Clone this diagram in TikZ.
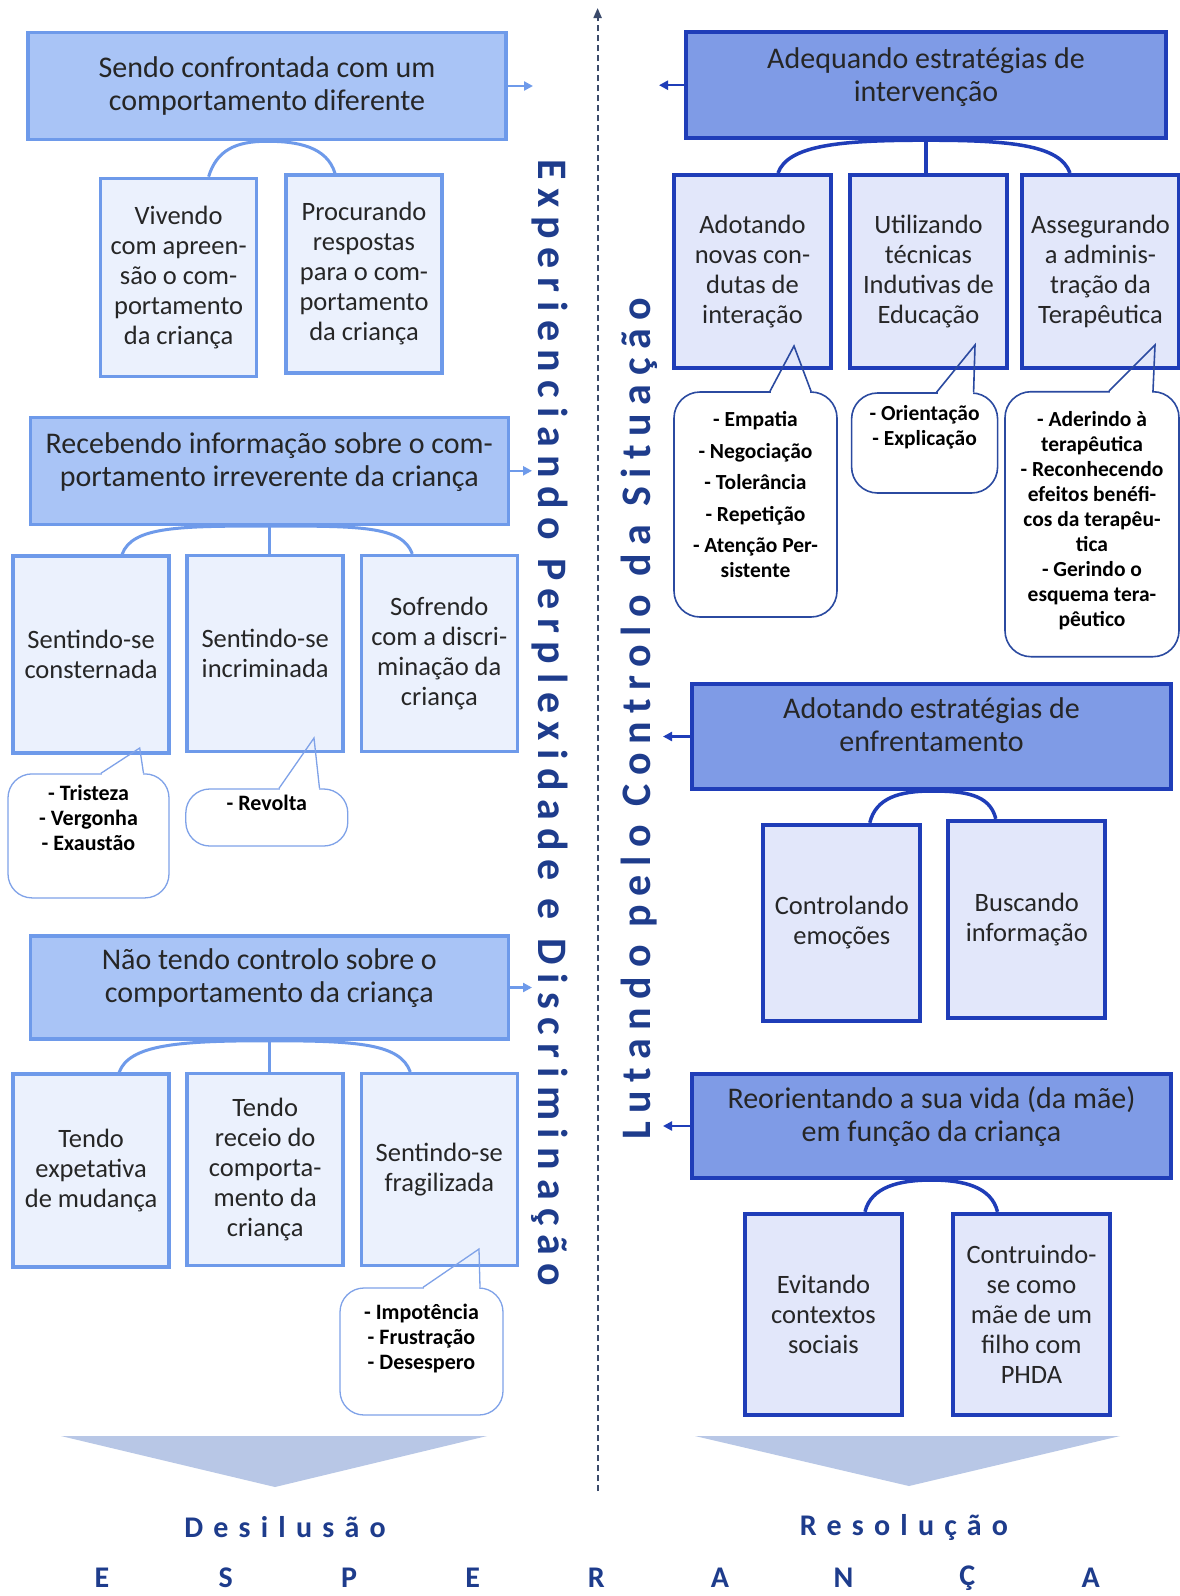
\documentclass[tikz,border=0pt]{standalone}
\usepackage{fontspec}
\setmainfont{Carlito}
\newfontfamily\sidefont[LetterSpace=20.5]{Carlito}
\newfontfamily\footfont[LetterSpace=34]{Carlito}
\usepackage{tikz}
\usetikzlibrary{calc,arrows.meta}
\definecolor{lhfill}{HTML}{A9C4F6}
\definecolor{lkfill}{HTML}{EBF1FD}
\definecolor{ledge}{HTML}{6E9AEA}
\definecolor{rhfill}{HTML}{7F9BE6}
\definecolor{rkfill}{HTML}{E2E7FA}
\definecolor{redge}{HTML}{1F3DB8}
\definecolor{lcall}{HTML}{7FA2E8}
\definecolor{rcall}{HTML}{2B4AA0}
\definecolor{navy}{HTML}{1E3C8C}
\definecolor{ink}{HTML}{262626}
\definecolor{chev}{HTML}{B8C7E6}
\definecolor{axis}{HTML}{3B4A6B}
\newcommand{\hdtext}[2]{\raisebox{#1}[0pt][0pt]{\begin{tabular}{@{}c@{}}#2\end{tabular}}}
\tikzset{
  lhead/.style={draw=ledge, fill=lhfill, line width=3.5pt, minimum width=478pt, inner sep=0pt, align=center, text=ink, font=\fontsize{30}{33}\selectfont},
  rhead/.style={draw=redge, fill=rhfill, line width=4pt, minimum width=479pt, inner sep=0pt, align=center, text=ink, font=\fontsize{30}{33}\selectfont},
  lkid/.style={draw=ledge, fill=lkfill, line width=3.5pt, minimum width=156pt, inner sep=0pt, align=center, text=ink, font=\fontsize{26.5}{30}\selectfont},
  rkid/.style={draw=redge, fill=rkfill, line width=4pt, minimum width=157pt, inner sep=0pt, align=center, text=ink, font=\fontsize{26.5}{30}\selectfont},
  lnote/.style={draw=lcall, fill=white, line width=1.3pt, rounded corners=24pt, inner sep=0pt, font=\bfseries\fontsize{22}{25}\selectfont},
  rnote/.style={draw=rcall, fill=white, line width=1.6pt, rounded corners=26pt, inner sep=0pt, font=\bfseries\fontsize{21.5}{25}\selectfont},
  ltail/.style={draw=lcall, line width=1.3pt},
  rtail/.style={draw=rcall, line width=1.6pt},
  llink/.style={draw=ledge, line width=3pt},
  rlink/.style={draw=redge, line width=3.5pt},
  larrow/.style={draw=ledge, line width=2.5pt, -{Triangle[length=9pt,width=9pt]}},
  rarrow/.style={draw=redge, line width=2.5pt, -{Triangle[length=9pt,width=9pt]}},
  axisline/.style={draw=axis, line width=2pt, dash pattern=on 6pt off 4pt, -{Triangle[length=10pt,width=8pt]}},
  sidelab/.style={text=navy, font=\sidefont\bfseries\fontsize{42}{44}\selectfont, inner sep=0pt},
  footlab/.style={text=navy, font=\footfont\bfseries\fontsize{30}{32}\selectfont, inner sep=0pt},
  letter/.style={text=navy, font=\bfseries\fontsize{30}{32}\selectfont, inner sep=0pt},
}
\begin{document}
\begin{tikzpicture}[x=1pt, y=-1pt]
  \fill[white] (0,0) rectangle (1180,1596);
  \useasboundingbox (0,0) rectangle (1180,1596);

  % middle axis
  \coordinate (axb) at (597.6,1491);
  \coordinate (axt) at (597.6,8);
  \draw[axisline] (axb) -- (axt);

  % left column
  \node[lhead, minimum height=107pt] (h1) at (267,86) {Sendo confrontada com um\\comportamento diferente};
  \node[lkid, minimum height=198pt] (a1) at (178.6,277.4) {Vivendo\\com apreen-\\são o com-\\portamento\\da criança};
  \node[lkid, minimum height=198pt] (a2) at (364,274) {Procurando\\respostas\\para o com-\\portamento\\da criança};
  \draw[llink] ($(a1.north)+(30,0)$) .. controls +(8,-26) and +(-32,0) .. (h1.south) .. controls +(32,0) and +(-8,-26) .. ($(a2.north)+(-29,0)$);

  \node[lhead, minimum height=107pt] (h2) at (269.3,470.8) {\hdtext{1.6pt}{Recebendo informação sobre o com-\\portamento irreverente da criança}};
  \node[lkid, minimum height=197pt] (b1) at (91.1,654.6) {Sentindo-se\\consternada};
  \node[lkid, minimum height=196pt] (b2) at (265.2,653.6) {Sentindo-se\\incriminada};
  \node[lkid, minimum height=196pt] (b3) at (439.3,653.6) {Sofrendo\\com a discri-\\minação da\\criança};
  \draw[llink] ($(b1.north)+(31,0)$) .. controls +(10,-28) and +(-90,0) .. (h2.south) .. controls +(90,0) and +(-10,-28) .. ($(b3.north)+(-27,0)$);
  \draw[llink] (h2.south) -- (h2.south |- b2.north);

  \node[lhead, minimum height=103pt] (h3) at (269.3,987.5) {\hdtext{1.6pt}{Não tendo controlo sobre o\\comportamento da criança}};
  \node[lkid, minimum height=193pt] (c1) at (91.1,1170.7) {Tendo\\expetativa\\de mudança};
  \node[lkid, minimum height=192pt] (c2) at (265.2,1169.7) {Tendo\\receio do\\comporta-\\mento da\\criança};
  \node[lkid, minimum height=192pt] (c3) at (439.3,1169.7) {Sentindo-se\\fragilizada};
  \draw[llink] ($(c1.north)+(28,0)$) .. controls +(10,-28) and +(-90,0) .. (h3.south) .. controls +(90,0) and +(-10,-28) .. ($(c3.north)+(-29,0)$);
  \draw[llink] (h3.south) -- (h3.south |- c2.north);

  \coordinate (h1o) at (533,86);
  \coordinate (h2o) at (532,470.8);
  \coordinate (h3o) at (532,987.5);
  \draw[larrow] (h1.east) -- (h1o);
  \draw[larrow] (h2.east) -- (h2o);
  \draw[larrow] (h3.east) -- (h3o);

  % left callouts
  \node[lnote, minimum width=161pt, minimum height=124pt] (n1) at (88.5,835.9) {\hdtext{10.7pt}{- Tristeza\\- Vergonha\\- Exaustão}};
  \coordinate (n1p) at (139.7,748);
  \fill[white] ($(n1.north)+(13.5,-2)$) rectangle ($(n1.north)+(54,2)$);
  \draw[ltail] ($(n1.north)+(12.5,0)$) -- (n1p) -- ($(n1.north)+(55,0)$);

  \node[lnote, minimum width=162pt, minimum height=57pt] (n2) at (266.8,817.5) {\hdtext{7.3pt}{- Revolta}};
  \coordinate (n2p) at (314,738);
  \fill[white] ($(n2.north)+(13.2,-2)$) rectangle ($(n2.north)+(51.7,2)$);
  \draw[ltail] ($(n2.north)+(12.2,0)$) -- (n2p) -- ($(n2.north)+(52.7,0)$);

  \node[lnote, minimum width=163pt, minimum height=127pt] (n3) at (421.5,1351.5) {\hdtext{7.3pt}{- Impotência\\- Frustração\\- Desespero}};
  \coordinate (n3p) at (479,1249);
  \fill[white] ($(n3.north)+(2.5,-2)$) rectangle ($(n3.north)+(57.5,2)$);
  \draw[ltail] ($(n3.north)+(1.5,0)$) -- (n3p) -- ($(n3.north)+(58.5,0)$);

  % right column
  \node[rhead, minimum width=480pt, minimum height=106pt] (rh1) at (926,85.2) {\hdtext{0.6pt}{Adequando estratégias de\\intervenção}};
  \node[rkid, minimum height=193pt] (r1a) at (752.5,271.5) {Adotando\\novas con-\\dutas de\\interação};
  \node[rkid, minimum height=193pt] (r1b) at (928.5,271.5) {Utilizando\\técnicas\\Indutivas de\\Educação};
  \node[rkid, minimum height=193pt] (r1c) at (1100.5,271.5) {Assegurando\\a adminis-\\tração da\\Terapêutica};
  \draw[rlink] ($(r1a.north)+(25.5,0)$) .. controls +(10,-28) and +(-85,0) .. (rh1.south) .. controls +(85,0) and +(-10,-28) .. ($(r1c.north)+(-30.5,0)$);
  \draw[rlink] (rh1.south) -- (rh1.south |- r1b.north);

  \node[rhead, minimum height=105pt] (rh2) at (931.5,736.5) {\hdtext{1.6pt}{Adotando estratégias de\\enfrentamento}};
  \node[rkid, minimum height=196pt] (r2a) at (841.8,922.8) {Controlando\\emoções};
  \node[rkid, minimum height=197pt] (r2b) at (1026.8,919.3) {Buscando\\informação};
  \draw[rlink] ($(r2a.north)+(28,0)$) .. controls +(6,-25) and +(-32,0) .. (rh2.south) .. controls +(32,0) and +(-6,-25) .. ($(r2b.north)+(-31,0)$);

  \node[rhead, minimum height=104pt] (rh3) at (931.5,1126) {\hdtext{1.6pt}{Reorientando a sua vida (da mãe)\\em função da criança}};
  \node[rkid, minimum height=201pt] (r3a) at (823.5,1314.3) {Evitando\\contextos\\sociais};
  \node[rkid, minimum height=201pt] (r3b) at (1031.5,1314.3) {Contruindo-\\se como\\mãe de um\\filho com\\PHDA};
  \draw[rlink] ($(r3a.north)+(41.5,0)$) .. controls +(6,-25) and +(-32,0) .. (rh3.south) .. controls +(32,0) and +(-6,-25) .. ($(r3b.north)+(-34,0)$);

  \coordinate (rh1o) at (659,85.2);
  \coordinate (rh2o) at (663,736.5);
  \coordinate (rh3o) at (663,1126);
  \draw[rarrow] (rh1.west) -- (rh1o);
  \draw[rarrow] (rh2.west) -- (rh2o);
  \draw[rarrow] (rh3.west) -- (rh3o);

  % right callouts
  \node[rnote, minimum width=163pt, minimum height=225pt] (m1) at (755.5,504.5) {\hdtext{2.3pt}{- Empatia\\[6.5pt]- Negociação\\[6.5pt]- Tolerância\\[6.5pt]- Repetição\\[6.5pt]- Atenção Per-\\sistente}};
  \coordinate (m1p) at (794,346);
  \fill[white] ($(m1.north)+(15.5,-2)$) rectangle ($(m1.north)+(54.5,2)$);
  \draw[rtail] ($(m1.north)+(14.5,0)$) -- (m1p) -- ($(m1.north)+(55.5,0)$);

  \node[rnote, minimum width=146pt, minimum height=100pt] (m2) at (924.6,443) {\hdtext{10.3pt}{- Orientação\\- Explicação}};
  \coordinate (m2p) at (975,345);
  \fill[white] ($(m2.north)+(13,-2)$) rectangle ($(m2.north)+(48,2)$);
  \draw[rtail] ($(m2.north)+(12,0)$) -- (m2p) -- ($(m2.north)+(49,0)$);

  \node[rnote, minimum width=174pt, minimum height=265pt] (m3) at (1092,524.2) {\hdtext{-2.9pt}{- Aderindo à\\terapêutica\\- Reconhecendo\\efeitos benéfi-\\cos da terapêu-\\tica\\- Gerindo o\\esquema tera-\\pêutico}};
  \coordinate (m3p) at (1155,345);
  \fill[white] ($(m3.north)+(18,-2)$) rectangle ($(m3.north)+(60,2)$);
  \draw[rtail] ($(m3.north)+(17,0)$) -- (m3p) -- ($(m3.north)+(61,0)$);

  % side labels
  \node[sidelab, rotate=-90] (exper) at (550,723) {Experienciando Perplexidade e Discriminação};
  \node[sidelab, rotate=90] (lutan) at (639,719) {Lutando pelo Controlo da Situação};

  % chevrons
  \fill[chev] (61,1436) -- (487,1436) -- (275,1487) -- cycle;
  \fill[chev] (695,1436) -- (1120,1436) -- (909,1486) -- cycle;

  % bottom
  \node[footlab] (desil) at (285,1527) {Desilusão};
  \node[footlab] (resol) at (904,1527) {Resolução};
  \foreach \ch [count=\i] in {E,S,P,E,R,A,N,Ç,A}
    \node[letter] (esp\i) at ({102+123.6*(\i-1)},1578) {\ch};
\end{tikzpicture}
\end{document}
